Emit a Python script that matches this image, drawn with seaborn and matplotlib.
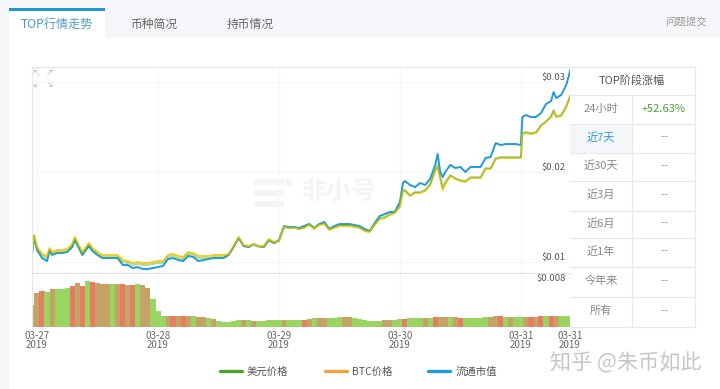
import matplotlib
matplotlib.use("Agg")
import matplotlib.pyplot as plt
from matplotlib.patches import Rectangle, Circle
import numpy as np
import pandas as pd
import seaborn as sns

# hours since 03-27 00:00
hours = [-1, -0.6, 0, 1, 2, 2.5, 3, 4, 5, 6, 7, 7.5, 8, 9, 10, 10.3, 11, 12, 13, 14, 15, 16, 17, 18, 19,
         20, 21, 22, 23, 24, 25, 26, 27, 28, 29, 30, 31, 32, 33, 34, 35, 36, 37, 38, 39, 40, 41, 42, 43, 44,
         45, 46, 47, 48, 49, 50, 51, 52, 53, 54, 55, 56, 57, 58, 59, 60, 61, 62, 63, 64, 65, 66, 67, 68, 69,
         70, 71, 72, 72.6, 73, 74, 75, 76, 77, 78, 79, 79.5, 80, 80.5, 81, 82, 83, 84, 85, 86, 87, 88, 89,
         90, 91, 92, 93, 94, 95, 96, 96.3, 97, 98, 99, 100, 101, 102, 102.5, 103, 104, 105, 106]

# prices in 1e-5 USD
usd_price = [1078, 1289, 1144, 1067, 1044, 1133, 1089, 1111, 1111, 1122, 1178, 1256, 1200, 1089, 1167, 1189, 1133,
             1089, 1056, 1056, 1056, 1056, 1000, 989, 967, 978, 967, 967, 978, 989, 989, 1056, 1067, 1044, 1033,
             1089, 1078, 1044, 1044, 1044, 1056, 1056, 1056, 1078, 1167, 1267, 1178, 1167, 1189, 1167, 1167, 1244,
             1211, 1233, 1389, 1378, 1389, 1367, 1389, 1422, 1378, 1422, 1433, 1367, 1389, 1411, 1411, 1411, 1400,
             1389, 1356, 1344, 1422, 1489, 1500, 1533, 1556, 1633, 1800, 1800, 1744, 1778, 1778, 1800, 1867, 2022,
             2078, 1956, 1833, 1889, 1967, 1933, 1911, 1900, 1944, 1944, 1944, 2044, 2044, 2156, 2167, 2167, 2167,
             2167, 2167, 2433, 2444, 2433, 2444, 2522, 2567, 2622, 2689, 2622, 2633, 2733, 2878]
btc_price = [1100, 1300, 1170, 1090, 1067, 1156, 1111, 1133, 1133, 1144, 1200, 1278, 1222, 1111, 1189, 1211, 1156,
             1111, 1078, 1078, 1078, 1078, 1022, 1011, 989, 1000, 989, 989, 1000, 1011, 1011, 1078, 1089, 1067, 1056,
             1111, 1100, 1067, 1067, 1067, 1078, 1078, 1078, 1089, 1178, 1278, 1189, 1178, 1200, 1178, 1178, 1256,
             1222, 1233, 1389, 1378, 1378, 1367, 1378, 1411, 1367, 1411, 1422, 1356, 1378, 1400, 1400, 1400, 1389,
             1378, 1344, 1333, 1411, 1478, 1489, 1522, 1544, 1611, 1789, 1789, 1733, 1767, 1767, 1789, 1856, 2011,
             2056, 1922, 1800, 1867, 1956, 1922, 1900, 1889, 1933, 1933, 1933, 2033, 2033, 2144, 2156, 2156, 2156,
             2156, 2156, 2422, 2433, 2422, 2433, 2511, 2556, 2611, 2678, 2611, 2622, 2722, 2867]
market_cap = [1078, 1278, 1133, 1044, 1011, 1122, 1078, 1100, 1100, 1111, 1167, 1244, 1189, 1078, 1156, 1178, 1122,
              1078, 1044, 1044, 1044, 1044, 967, 967, 933, 944, 922, 922, 933, 944, 956, 1033, 1044, 1022, 1011,
              1067, 1056, 1011, 1022, 1033, 1044, 1044, 1044, 1078, 1167, 1267, 1178, 1167, 1200, 1178, 1167, 1244,
              1211, 1244, 1400, 1389, 1389, 1378, 1400, 1422, 1378, 1422, 1444, 1367, 1400, 1422, 1422, 1422, 1411,
              1400, 1367, 1344, 1433, 1511, 1533, 1556, 1556, 1667, 1878, 1900, 1856, 1833, 1878, 1856, 1922, 2078,
              2200, 2000, 1944, 2000, 2078, 2044, 2056, 2000, 2056, 2056, 2056, 2156, 2167, 2322, 2300, 2311, 2311,
              2311, 2300, 2611, 2633, 2611, 2611, 2656, 2756, 2789, 2889, 2822, 2856, 2967, 3167]

# hourly volume bars, 1e-5 units, one per hour from -1 to 106
bar_hours = list(range(-1, 107))
volume = [400, 619, 655, 637, 692, 692, 692, 710, 746, 801, 746, 837, 819, 801, 783, 783, 783, 783, 783, 764, 764,
          783, 764, 710, 510, 300, 200, 200, 200, 200, 200, 200, 200, 190, 182, 164, 146, 110, 100, 100, 110, 127,
          120, 120, 115, 110, 115, 120, 130, 130, 130, 135, 127, 127, 135, 146, 155, 160, 164, 164, 170, 178, 182,
          182, 164, 146, 127, 109, 109, 115, 127, 127, 136, 146, 150, 155, 160, 164, 164, 170, 182, 185, 182, 178,
          175, 170, 168, 164, 164, 170, 175, 190, 200, 195, 190, 185, 182, 185, 190, 190, 190, 195, 195, 200, 200,
          200, 195, 195]
bar_side = list("mmrgmgggrm" "rgrmmmgmrm" "rgmmgggmrm" "rmgmmgmggg" "ggmgmggggg"
                "mgggrmgmmg" "ggmmgggggg" "mmggrgggmg" "rmmgmrgggg" "gmmrgmggmr" "mrgrmggg")

tick_hours = [0, 24, 48, 72, 96, 105.75]
tick_labels = ["03-27\n2019", "03-28\n2019", "03-29\n2019", "03-30\n2019", "03-31\n2019", "03-31\n2019"]
price_ticks = [0.01, 0.02, 0.03]
price_labels = ["$0.01", "$0.02", "$0.03"]

tabs = ["币种简况", "持币情况"]
table_rows = ["24小时", "近7天", "近30天", "近3月", "近6月", "近1年", "今年来", "所有"]
table_values = ["+52.63%", "--", "--", "--", "--", "--", "--", "--"]

sns.set_theme(style="white")
plt.rcParams['font.family'] = ['Noto Sans CJK SC', 'DejaVu Sans']

W, H = 720, 389
fig = plt.figure(figsize=(W / 100, H / 100), dpi=100, facecolor="white")

# page furniture drawn in pixel coordinates
bg = fig.add_axes([0, 0, 1, 1])
bg.set_xlim(0, W)
bg.set_ylim(H, 0)
bg.axis("off")
bg.add_patch(Rectangle((0, 0), W, 38, color="#f4f6fa", lw=0))
bg.add_patch(Rectangle((0, 0), 9, H, color="#f4f6fa", lw=0))
bg.add_patch(Rectangle((9, 9), 96, 29, color="white", lw=0))
bg.add_patch(Rectangle((9, 8), 96, 3, color="#1f96d6", lw=0))
bg.text(57, 24, "TOP行情走势", color="#4a9cc9", fontsize=8.7, ha="center", va="center")
bg.text(154, 24, tabs[0], color="#666666", fontsize=8.5, ha="center", va="center")
bg.text(250, 24, tabs[1], color="#666666", fontsize=8.5, ha="center", va="center")
bg.text(686, 22, "问题提交", color="#999999", fontsize=7.5, ha="center", va="center")

# watermarks
for top in [179, 190, 201]:
    bg.add_patch(Rectangle((254, top), 30, 6, color="#f4f5f8", lw=0))
bg.add_patch(Circle((289, 182), 4, color="#f4f5f8", lw=0))
bg.text(339, 192, "非小号", color="#f3f4f7", fontsize=18, fontweight="bold", ha="center", va="center")
bg.text(626, 363, "知乎 @朱币如此", color="#c6c6c6", fontsize=15.2, ha="center", va="center")

# arrows in chart corner
for ax_x, ay, arrow in [(37, 73, "↖"), (50, 73, "↗"), (37, 85, "↙"), (50, 85, "↘")]:
    bg.text(ax_x, ay, arrow, color="#aaaaaa", fontsize=5.5, ha="center", va="center")

# side table
row_edges = [67, 95, 124, 153, 181, 211, 238, 267, 297, 327]
line_c = "#e6e8ec"
bg.add_patch(Rectangle((570, 124), 62, 29, color="#f4f6fa", lw=0))
for y in row_edges:
    bg.plot([570, 695], [y, y], color=line_c, lw=0.9)
bg.plot([695, 695], [67, 327], color=line_c, lw=0.9)
bg.plot([632, 632], [95, 327], color=line_c, lw=0.9)
bg.text(632, 80, "TOP阶段涨幅", color="#555555", fontsize=8, ha="center", va="center")
for i, (name, val) in enumerate(zip(table_rows, table_values)):
    yc = (row_edges[i + 1] + row_edges[i + 2]) / 2 - 1
    bg.text(601, yc, name, color="#2d9cdb" if name == "近7天" else "#888888", fontsize=8, ha="center", va="center")
    bg.text(664, yc, val, color="#4c9f38" if i == 0 else "#999999", fontsize=8, ha="center", va="center")

# price panel
ax = fig.add_axes([32 / W, 1 - 273 / H, 538 / W, 206 / H], facecolor="none")
df = pd.DataFrame({"hour": hours, "美元价格": np.array(usd_price) / 1e5,
                   "BTC价格": np.array(btc_price) / 1e5, "流通市值": np.array(market_cap) / 1e5})
long_df = df.melt(id_vars="hour", var_name="series", value_name="price")
palette = {"美元价格": "#4ca32e", "BTC价格": "#f5cc20", "流通市值": "#1f9bd8"}
sns.lineplot(data=long_df, x="hour", y="price", hue="series", palette=palette, estimator=None,
             hue_order=["流通市值", "BTC价格", "美元价格"], linewidth=1.4, ax=ax, legend=True)
handles, labels = ax.get_legend_handles_labels()
ax.get_legend().remove()
# green sits on top and half shows through, which gives the olive colour where lines overlap
ax.lines[2].set_alpha(0.42)
ax.set_xlim(-0.99, 105.75)
ax.set_ylim(0.00878, 0.03167)
ax.set_xticks(tick_hours[:-1])
ax.set_xticklabels([])
ax.set_yticks(price_ticks)
ax.set_yticklabels(price_labels)
ax.yaxis.tick_right()
ax.tick_params(axis="y", length=0, pad=-3, labelsize=6.8, labelcolor="#555555")
ax.tick_params(axis="x", length=0)
for lab in ax.get_yticklabels():
    lab.set_ha("right")
    lab.set_va("bottom")
ax.grid(True, color="#f6f6f6", lw=0.8)
ax.set_xlabel("")
ax.set_ylabel("")
for side in ["right", "bottom"]:
    ax.spines[side].set_visible(False)
for side in ["top", "left"]:
    ax.spines[side].set_color("#e6e6e6")
    ax.spines[side].set_linewidth(0.9)

# volume panel
ax2 = fig.add_axes([32 / W, 1 - 327 / H, 538 / W, 54 / H], facecolor="none")
vol_df = pd.DataFrame({"hour": bar_hours, "volume": np.array(volume) / 1e5, "side": bar_side})
sns.barplot(data=vol_df, x="hour", y="volume", hue="side", dodge=False, native_scale=True, width=1,
            palette={"g": "#9bd561", "r": "#e67c62", "m": "#c5a266"}, saturation=1, errorbar=None,
            legend=False, ax=ax2)
# seaborn leaves gaps on a numeric axis, the reference bars touch
for bar in ax2.patches:
    mid = bar.get_x() + bar.get_width() / 2
    bar.set_width(1.03)
    bar.set_x(mid - 0.515)
    bar.set_linewidth(0)
ax2.set_xlim(-0.99, 105.75)
ax2.set_ylim(0, 0.00983)
ax2.set_xticks(tick_hours)
ax2.set_xticklabels(tick_labels, linespacing=0.85)
ax2.set_yticks([0.008])
ax2.set_yticklabels(["$0.008"])
ax2.yaxis.tick_right()
ax2.tick_params(axis="y", length=0, pad=-3, labelsize=6.8, labelcolor="#555555")
ax2.tick_params(axis="x", length=0, pad=3.2, labelsize=7, labelcolor="#666666")
for lab in ax2.get_yticklabels():
    lab.set_ha("right")
    lab.set_va("bottom")
ax2.grid(True, axis="x", color="#f6f6f6", lw=0.8)
ax2.set_axisbelow(True)
ax2.set_xlabel("")
ax2.set_ylabel("")
for side in ["right", "bottom"]:
    ax2.spines[side].set_visible(False)
ax2.spines["left"].set_color("#e6e6e6")
ax2.spines["left"].set_linewidth(0.9)
ax2.spines["top"].set_color("#e2e2e2")
ax2.spines["top"].set_linewidth(0.9)

legend_colors = {"美元价格": "#4ca32e", "BTC价格": "#f0a53a", "流通市值": "#1f9bd8"}
leg = fig.legend(handles[::-1], labels[::-1], ncol=3, loc="center", bbox_to_anchor=(358.5 / W, 1 - 372 / H),
                 frameon=False, fontsize=7.5, handlelength=2.1, handletextpad=0.45, columnspacing=3.5,
                 labelcolor="#555555")
for h, name in zip(leg.legend_handles, labels[::-1]):
    h.set_color(legend_colors[name])
    h.set_alpha(1)
    h.set_linewidth(2.4)

fig.savefig("out.png", dpi=100)
